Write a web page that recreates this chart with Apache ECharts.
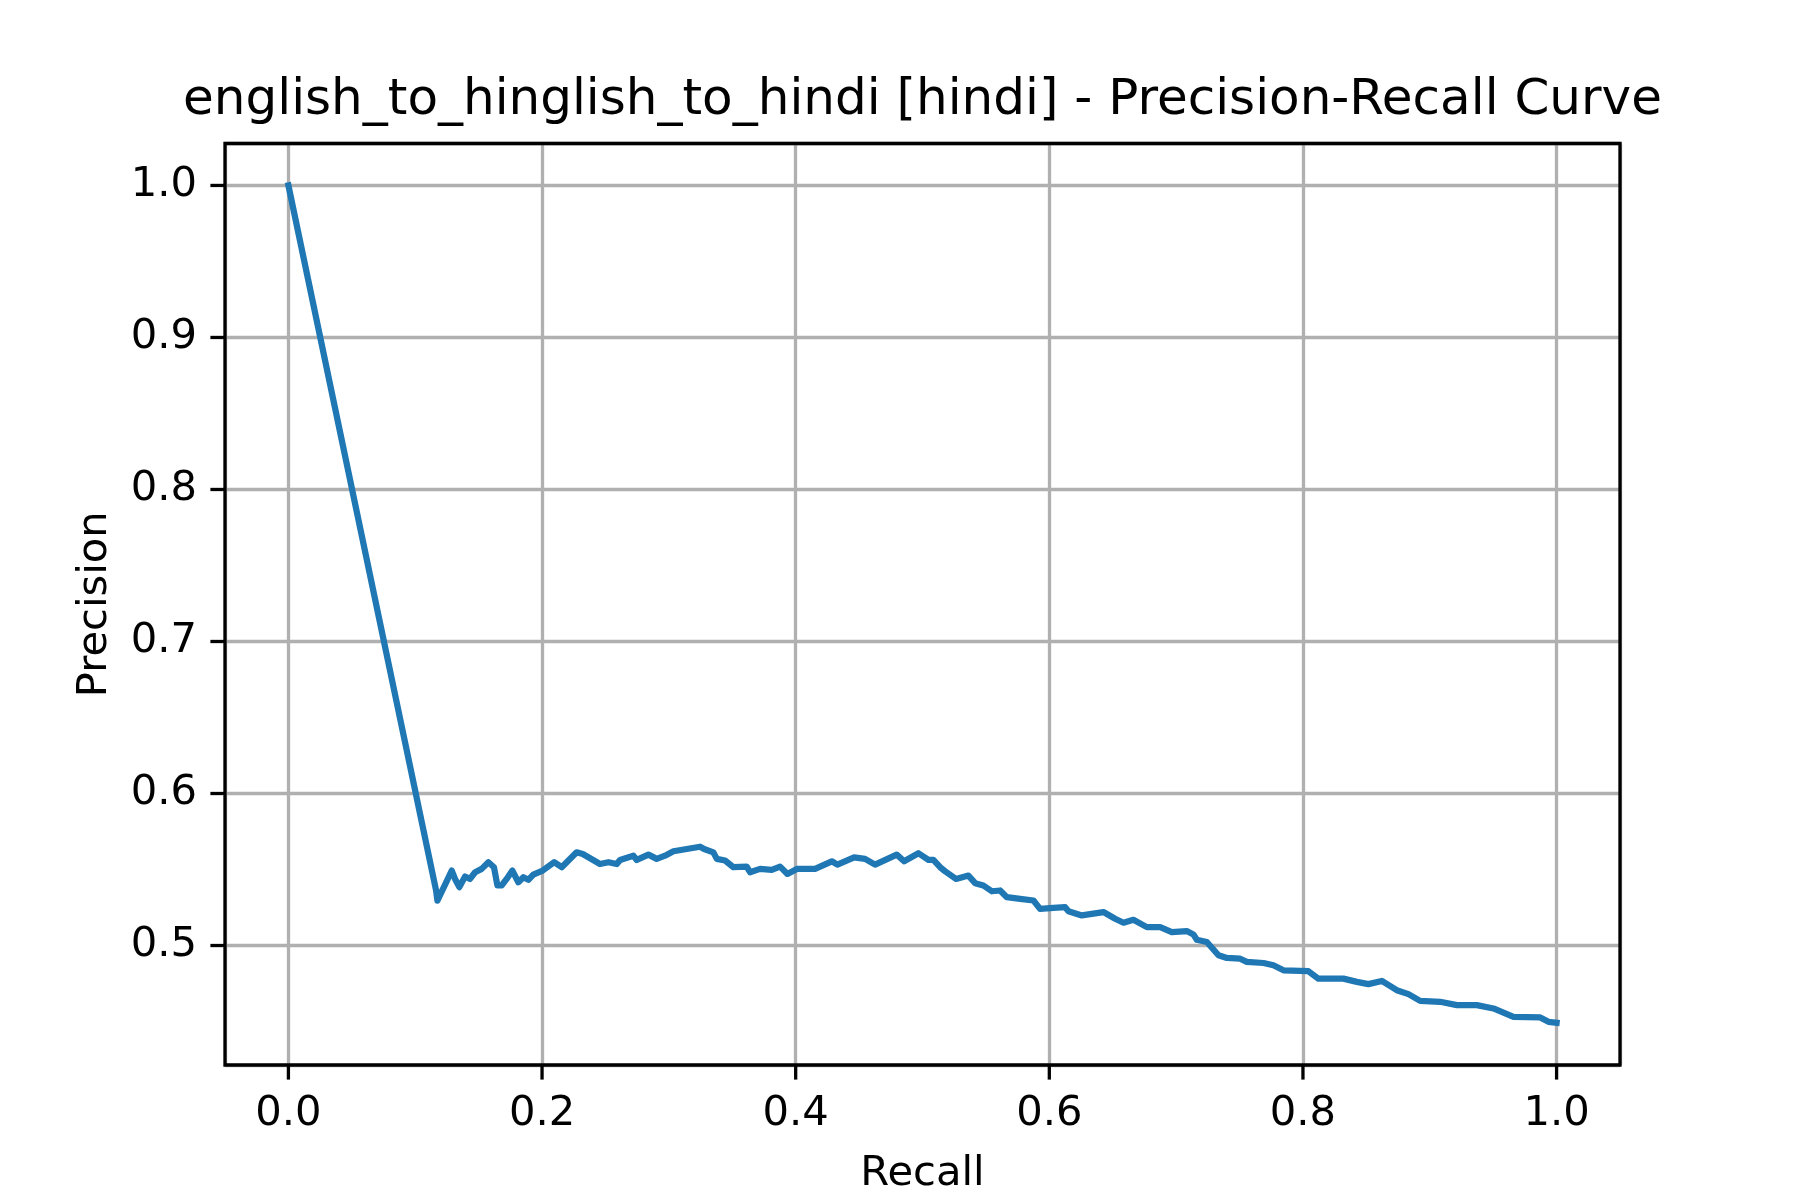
<!DOCTYPE html>
<html>
<head>
<meta charset="utf-8">
<script src="https://cdn.jsdelivr.net/npm/echarts@6/dist/echarts.min.js"></script>
<style>html,body{margin:0;padding:0;background:#fff}#c{width:1800px;height:1200px}</style>
</head>
<body>
<div id="c"></div>
<script>
const titleText = 'english_to_hinglish_to_hindi [hindi] - Precision-Recall Curve';
const xTicks = [0, 0.2, 0.4, 0.6, 0.8, 1.0];
const yTicks = [0.5, 0.6, 0.7, 0.8, 0.9, 1.0];
const recall = [0, 0.1164, 0.1175, 0.1288, 0.1314, 0.1348, 0.1393, 0.1432, 0.1472, 0.1524, 0.1577, 0.1621, 0.1648, 0.1682, 0.1721, 0.1766, 0.1813, 0.1853, 0.1892, 0.1931, 0.2005, 0.2095, 0.2155, 0.2273, 0.2321, 0.2457, 0.2523, 0.2589, 0.2615, 0.2720, 0.2747, 0.2839, 0.2904, 0.2970, 0.3036, 0.3246, 0.3278, 0.3351, 0.3378, 0.3443, 0.3509, 0.3614, 0.3640, 0.3719, 0.3811, 0.3877, 0.3935, 0.4009, 0.4153, 0.4285, 0.4329, 0.4461, 0.4547, 0.4626, 0.4797, 0.4855, 0.4968, 0.5047, 0.5086, 0.5139, 0.5178, 0.5265, 0.5362, 0.5415, 0.5480, 0.5547, 0.5612, 0.5665, 0.5770, 0.5875, 0.5927, 0.6032, 0.6125, 0.6151, 0.6256, 0.6427, 0.6519, 0.6585, 0.6663, 0.6769, 0.6874, 0.6966, 0.7084, 0.7136, 0.7163, 0.7242, 0.7334, 0.7400, 0.7505, 0.7557, 0.7689, 0.7767, 0.7846, 0.8043, 0.8122, 0.8319, 0.8425, 0.8516, 0.8622, 0.8740, 0.8832, 0.8924, 0.9082, 0.9214, 0.9371, 0.9502, 0.9660, 0.9871, 0.9936, 1.0];
const precision = [1.0, 0.5364, 0.5295, 0.5493, 0.5438, 0.5384, 0.5454, 0.5438, 0.5482, 0.5504, 0.5548, 0.5515, 0.5395, 0.5395, 0.5438, 0.5493, 0.5416, 0.5449, 0.5432, 0.5467, 0.5493, 0.5548, 0.5515, 0.5613, 0.5602, 0.5536, 0.5548, 0.5536, 0.5563, 0.5591, 0.5563, 0.5598, 0.5570, 0.5591, 0.5620, 0.5650, 0.5635, 0.5613, 0.5570, 0.5559, 0.5515, 0.5519, 0.5482, 0.5504, 0.5498, 0.5519, 0.5471, 0.5504, 0.5504, 0.5554, 0.5532, 0.5580, 0.5570, 0.5532, 0.5598, 0.5554, 0.5607, 0.5563, 0.5563, 0.5515, 0.5489, 0.5438, 0.5460, 0.5410, 0.5395, 0.5357, 0.5362, 0.5318, 0.5307, 0.5296, 0.5241, 0.5248, 0.5252, 0.5226, 0.5198, 0.5220, 0.5176, 0.5150, 0.5169, 0.5121, 0.5121, 0.5088, 0.5095, 0.5073, 0.5038, 0.5023, 0.4936, 0.4918, 0.4913, 0.4892, 0.4885, 0.4870, 0.4837, 0.4831, 0.4782, 0.4782, 0.4761, 0.4746, 0.4767, 0.4706, 0.4680, 0.4636, 0.4630, 0.4608, 0.4608, 0.4586, 0.4531, 0.4527, 0.4498, 0.4492];

const font = 'DejaVu Sans';
const chart = echarts.init(document.getElementById('c'), null, {renderer: 'canvas'});

function tickSeries(axisDim, values) {
  return {
    type: 'custom',
    silent: true,
    clip: false,
    z: 12,
    data: values.map(v => [v]),
    renderItem: function (params, api) {
      const v = api.value(0);
      const cs = params.coordSys;
      let x1, y1, x2, y2;
      if (axisDim === 'x') {
        const p = api.coord([v, 0.5]);
        x1 = x2 = p[0];
        y1 = cs.y + cs.height;
        y2 = y1 + 14.6;
      } else {
        const p = api.coord([0, v]);
        y1 = y2 = p[1];
        x1 = cs.x;
        x2 = x1 - 14.6;
      }
      return {
        type: 'line',
        shape: {x1: x1, y1: y1, x2: x2, y2: y2},
        style: {stroke: '#000', lineWidth: 3.3}
      };
    },
    encode: axisDim === 'x' ? {x: 0} : {y: 0}
  };
}

chart.setOption({
  animation: false,
  backgroundColor: '#fff',
  graphic: [{
    type: 'text', x: 922.5, y: 101.5,
    style: {text: titleText, fontFamily: font, fontSize: 50, fill: '#000', textAlign: 'center', textVerticalAlign: 'middle'}
  }],
  grid: {left: 225, right: 180, top: 143.5, bottom: 132.4, show: true, borderColor: '#000', borderWidth: 3.3, backgroundColor: 'transparent', z: 10},
  xAxis: {
    type: 'value', min: -0.05, max: 1.05,
    name: 'Recall', nameLocation: 'middle', nameGap: 88,
    nameTextStyle: {fontFamily: font, fontSize: 41.7, color: '#000'},
    axisLine: {show: false, onZero: false},
    axisTick: {show: false},
    axisLabel: {customValues: xTicks, margin: 28, fontFamily: font, fontSize: 41.7, color: '#000', formatter: v => v.toFixed(1)},
    splitLine: {show: true, lineStyle: {color: '#b0b0b0', width: 3.3}}
  },
  yAxis: {
    type: 'value', min: 0.4214, max: 1.0276,
    name: 'Precision', nameLocation: 'middle', nameGap: 109, nameRotate: 90,
    nameTextStyle: {fontFamily: font, fontSize: 41.7, color: '#000'},
    axisLine: {show: false, onZero: false},
    axisTick: {show: false},
    axisLabel: {customValues: yTicks, margin: 28, fontFamily: font, fontSize: 41.7, color: '#000', formatter: v => v.toFixed(1)},
    splitLine: {show: true, lineStyle: {color: '#b0b0b0', width: 3.3}}
  },
  series: [{
    type: 'line',
    data: recall.map((r, i) => [r, precision[i]]),
    showSymbol: false,
    lineStyle: {color: '#1f77b4', width: 6.25, join: 'round', cap: 'square'},
    z: 5
  }, tickSeries('x', xTicks), tickSeries('y', yTicks)]
});
</script>
</body>
</html>
